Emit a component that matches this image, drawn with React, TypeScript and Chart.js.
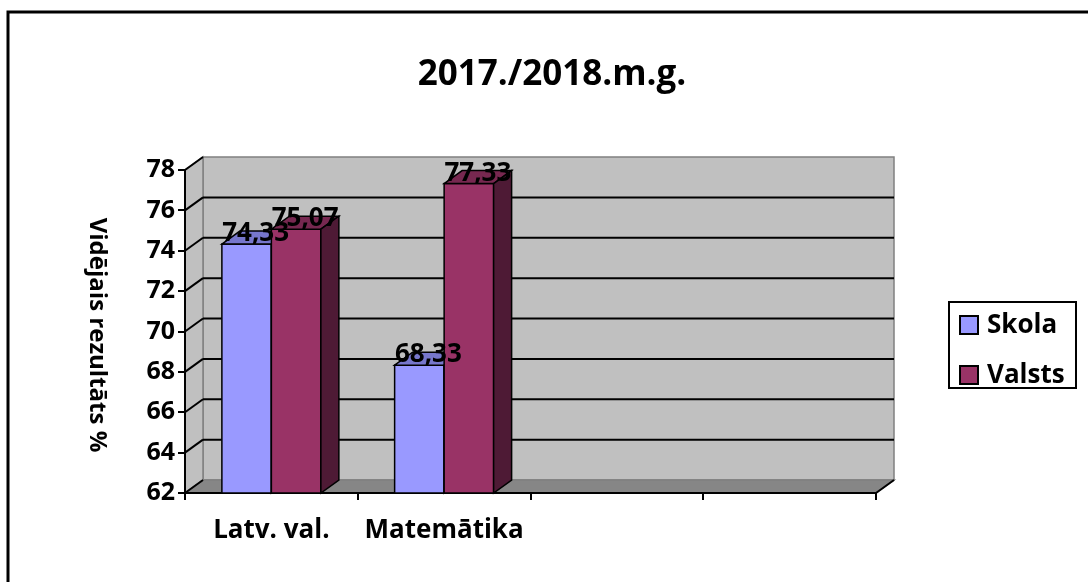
import React, { useEffect, useRef } from "react";
import { Chart, registerables } from "chart.js";

Chart.register(...registerables);

const categories = ["Latv. val.", "Matemātika", "", ""];
const skolaValues = [74.33, 68.33, null, null];
const valstsValues = [75.07, 77.33, null, null];
const seriesNames = ["Skola", "Valsts"];
const chartTitle = "2017./2018.m.g.";
const yAxisTitle = "Vidējais rezultāts %";
const yMin = 62;
const yMax = 78;
const yStep = 2;

const FONT = "'Open Sans', sans-serif";
const DX = 18;
const DY = -13;

const frontColors = ["#9999FF", "#993366"];
const topColors = ["#7777CC", "#772850"];
const sideColors = ["#4D4D80", "#4E1A35"];

const fmt = (v: number) => v.toFixed(2).replace(".", ",");

const threeD = {
  id: "threeD",
  beforeDraw(chart: any) {
    const ctx = chart.ctx;
    const { left, top, right, bottom } = chart.chartArea;
    const ys = chart.scales.y;
    ctx.save();
    ctx.fillStyle = "#ffffff";
    ctx.fillRect(0, 0, chart.width, chart.height);
    // back wall
    ctx.fillStyle = "#C0C0C0";
    ctx.strokeStyle = "#808080";
    ctx.lineWidth = 1.5;
    ctx.fillRect(left + DX, top + DY, right - left, bottom - top);
    ctx.strokeRect(left + DX, top + DY, right - left, bottom - top);
    // left wall
    ctx.beginPath();
    ctx.moveTo(left, top);
    ctx.lineTo(left + DX, top + DY);
    ctx.lineTo(left + DX, bottom + DY);
    ctx.lineTo(left, bottom);
    ctx.closePath();
    ctx.fill();
    ctx.stroke();
    // floor
    ctx.fillStyle = "#868686";
    ctx.beginPath();
    ctx.moveTo(left, bottom);
    ctx.lineTo(left + DX, bottom + DY);
    ctx.lineTo(right + DX, bottom + DY);
    ctx.lineTo(right, bottom);
    ctx.closePath();
    ctx.fill();
    ctx.stroke();
    // grid lines
    ctx.strokeStyle = "#000000";
    ctx.lineWidth = 2;
    for (let v = yMin; v <= yMax; v += yStep) {
      const py = ys.getPixelForValue(v);
      if (v > yMin && v < yMax) {
        ctx.beginPath();
        ctx.moveTo(left + DX, py + DY);
        ctx.lineTo(right + DX, py + DY);
        ctx.stroke();
      }
      ctx.beginPath();
      ctx.moveTo(left, py);
      ctx.lineTo(left + DX, py + DY);
      ctx.stroke();
    }
    // floor right edge
    ctx.beginPath();
    ctx.moveTo(right, bottom);
    ctx.lineTo(right + DX, bottom + DY);
    ctx.stroke();
    ctx.restore();
  },
  afterDatasetsDraw(chart: any) {
    const ctx = chart.ctx;
    const floorY = chart.chartArea.bottom;
    ctx.save();
    ctx.lineWidth = 1.5;
    ctx.strokeStyle = "#000000";
    ctx.lineJoin = "miter";
    const n = chart.data.labels.length;
    for (let i = 0; i < n; i++) {
      chart.data.datasets.forEach((ds: any, d: number) => {
        const v = ds.data[i];
        if (v === null || v === undefined) return;
        const el = chart.getDatasetMeta(d).data[i];
        const p = el.getProps(["x", "y", "base", "width"], true);
        const x = p.x;
        const y = p.y;
        const width = p.width;
        const base = Math.min(p.base, floorY);
        const l = x - width / 2;
        const r = x + width / 2;
        // front
        ctx.fillStyle = frontColors[d];
        ctx.fillRect(l, y, r - l, base - y);
        ctx.strokeRect(l, y, r - l, base - y);
        // top
        ctx.fillStyle = topColors[d];
        ctx.beginPath();
        ctx.moveTo(l, y);
        ctx.lineTo(l + DX, y + DY);
        ctx.lineTo(r + DX, y + DY);
        ctx.lineTo(r, y);
        ctx.closePath();
        ctx.fill();
        ctx.stroke();
        // side
        ctx.fillStyle = sideColors[d];
        ctx.beginPath();
        ctx.moveTo(r, y);
        ctx.lineTo(r + DX, y + DY);
        ctx.lineTo(r + DX, base + DY);
        ctx.lineTo(r, base);
        ctx.closePath();
        ctx.fill();
        ctx.stroke();
      });
    }
    // data labels
    ctx.fillStyle = "#000000";
    ctx.font = `bold 26px ${FONT}`;
    ctx.textAlign = "center";
    ctx.textBaseline = "alphabetic";
    chart.data.datasets.forEach((ds: any, d: number) => {
      chart.getDatasetMeta(d).data.forEach((el: any, i: number) => {
        const v = ds.data[i];
        if (v === null || v === undefined) return;
        const { x, y } = el.getProps(["x", "y"], true);
        ctx.fillText(fmt(v), x + DX / 2, y - 3);
      });
    });
    ctx.restore();
  },
  afterDraw(chart: any) {
    const ctx = chart.ctx;
    ctx.save();
    // title
    ctx.fillStyle = "#000000";
    ctx.font = `bold 35px ${FONT}`;
    ctx.textAlign = "center";
    ctx.textBaseline = "alphabetic";
    ctx.fillText(chartTitle, 552, 85);
    // y axis title
    ctx.save();
    ctx.translate(97, 335);
    ctx.rotate(Math.PI / 2);
    ctx.font = `bold 24px ${FONT}`;
    ctx.textBaseline = "middle";
    ctx.fillText(yAxisTitle, 0, 0);
    ctx.restore();
    // legend
    ctx.lineWidth = 2;
    ctx.strokeStyle = "#000000";
    ctx.strokeRect(949, 302, 127, 86);
    ctx.font = `bold 26px ${FONT}`;
    ctx.textAlign = "left";
    ctx.textBaseline = "middle";
    const rows = [325, 375];
    seriesNames.forEach((name, k) => {
      ctx.fillStyle = frontColors[k];
      ctx.fillRect(960, rows[k] - 9, 18, 18);
      ctx.strokeRect(960, rows[k] - 9, 18, 18);
      ctx.fillStyle = "#000000";
      ctx.fillText(name, 987, rows[k] + 1);
    });
    // outer frame
    ctx.lineWidth = 3;
    ctx.beginPath();
    ctx.moveTo(8, chart.height);
    ctx.lineTo(8, 12);
    ctx.lineTo(chart.width, 12);
    ctx.stroke();
    ctx.restore();
  },
};

export default function App() {
  const ref = useRef<HTMLCanvasElement | null>(null);
  useEffect(() => {
    document.body.style.margin = "0";
    if (!ref.current) return;
    const chart = new Chart(ref.current, {
      type: "bar",
      data: {
        labels: categories,
        datasets: [
          {
            label: seriesNames[0],
            data: skolaValues,
            backgroundColor: frontColors[0],
            borderWidth: 0,
            barPercentage: 1,
            categoryPercentage: 0.573,
          },
          {
            label: seriesNames[1],
            data: valstsValues,
            backgroundColor: frontColors[1],
            borderWidth: 0,
            barPercentage: 1,
            categoryPercentage: 0.573,
          },
        ],
      },
      options: {
        responsive: false,
        animation: false,
        devicePixelRatio: 1,
        layout: { padding: { left: 0, right: 212, top: 170, bottom: 0 } },
        plugins: {
          legend: { display: false },
          title: { display: false },
          tooltip: { enabled: false },
        },
        scales: {
          y: {
            min: yMin,
            max: yMax,
            ticks: {
              stepSize: yStep,
              color: "#000000",
              font: { family: FONT, size: 25, weight: "bold" },
              padding: 3,
            },
            grid: {
              drawOnChartArea: false,
              drawTicks: true,
              tickLength: 7,
              color: "#000000",
              lineWidth: 2,
            },
            border: { display: true, color: "#000000", width: 2 },
            afterFit: (s: any) => {
              s.width = 185;
            },
          },
          x: {
            ticks: {
              color: "#000000",
              font: { family: FONT, size: 26, weight: "bold" },
              padding: 15,
              maxRotation: 0,
              autoSkip: false,
            },
            grid: {
              offset: true,
              drawOnChartArea: false,
              drawTicks: true,
              tickLength: 7,
              color: "#000000",
              lineWidth: 2,
            },
            border: { display: true, color: "#000000", width: 2 },
            afterFit: (s: any) => {
              s.height = 89;
            },
          },
        },
      },
      plugins: [threeD],
    });
    return () => chart.destroy();
  }, []);
  return <canvas ref={ref} width={1088} height={582} style={{ display: "block" }} />;
}
